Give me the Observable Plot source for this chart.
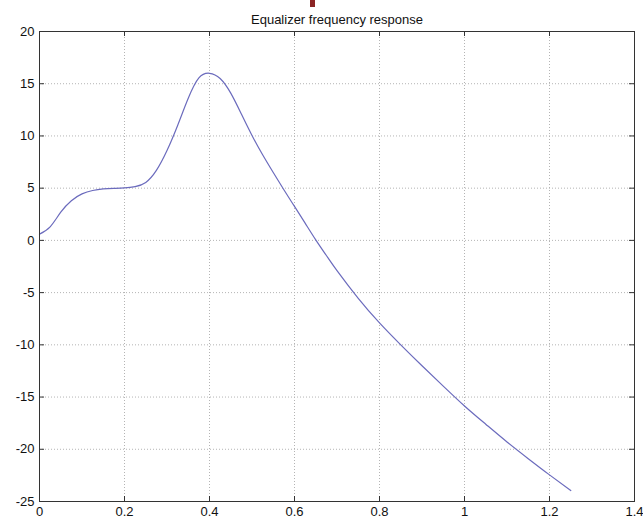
<!DOCTYPE html>
<html><head><meta charset="utf-8">
<script src="https://cdn.jsdelivr.net/npm/d3@7"></script>
<script src="https://cdn.jsdelivr.net/npm/@observablehq/plot@0.6"></script>
<style>
body{margin:0;background:#fff;}
#chart{position:relative;width:643px;height:522px;}
#mark{position:absolute;left:310px;top:0;width:5px;height:7px;background:#8b2525;}
</style>
</head><body><div id="chart"><div id="mark"></div></div>
<script>
const title = "Equalizer frequency response";
const freq = [0, 0.025, 0.05, 0.075, 0.1, 0.125, 0.15, 0.175, 0.2, 0.225, 0.25, 0.275, 0.3, 0.325, 0.35, 0.375, 0.4, 0.425, 0.45, 0.475, 0.5, 0.525, 0.55, 0.575, 0.6, 0.625, 0.65, 0.675, 0.7, 0.75, 0.8, 0.85, 0.9, 0.95, 1.0, 1.05, 1.1, 1.15, 1.2, 1.25];
const gainDb = [0.6, 1.3, 2.7, 3.8, 4.45, 4.78, 4.93, 4.98, 5.02, 5.15, 5.55, 6.7, 8.6, 11.0, 13.6, 15.55, 16.0, 15.5, 14.1, 12.1, 10.05, 8.2, 6.5, 4.85, 3.25, 1.65, 0.05, -1.45, -2.9, -5.55, -7.9, -10.0, -12.0, -13.95, -15.85, -17.6, -19.3, -20.9, -22.45, -23.95];
const xTicks = [0, 0.2, 0.4, 0.6, 0.8, 1, 1.2, 1.4];
const yTicks = [-25, -20, -15, -10, -5, 0, 5, 10, 15, 20];

const data = freq.map((f, i) => ({f, g: gainDb[i]}));
const W = 643, H = 522, mL = 39, mR = 9, mT = 31, mB = 21;
const fh = H - mT - mB, fw = W - mL - mR, tk = 5;
const ink = "#333";

const chart = Plot.plot({
  width: W, height: H,
  marginLeft: mL, marginRight: mR, marginTop: mT, marginBottom: mB,
  style: {fontFamily: "'Liberation Sans', Arial, Helvetica, sans-serif", fontSize: "13px", color: "#111", background: "#fff"},
  x: {domain: [0, 1.4], label: null},
  y: {domain: [-25, 20], label: null},
  marks: [
    Plot.gridX(xTicks, {stroke: "#b4b4b4", strokeOpacity: 1, strokeDasharray: "1,2"}),
    Plot.gridY(yTicks, {stroke: "#b4b4b4", strokeOpacity: 1, strokeDasharray: "1,2"}),
    Plot.line(data, {x: "f", y: "g", stroke: "#6b6bbd", strokeWidth: 1.2, curve: "natural"}),
    Plot.frame({stroke: ink}),
    Plot.tickX(xTicks, {x: d => d, insetTop: fh - tk, stroke: ink}),
    Plot.tickX(xTicks, {x: d => d, insetBottom: fh - tk, stroke: ink}),
    Plot.tickY(yTicks, {y: d => d, insetRight: fw - tk, stroke: ink}),
    Plot.tickY(yTicks, {y: d => d, insetLeft: fw - tk, stroke: ink}),
    Plot.axisX(xTicks, {tickSize: 0, tickPadding: 5, tickFormat: d => String(d)}),
    Plot.axisY(yTicks, {tickSize: 0, tickPadding: 5, tickFormat: d => String(d)}),
    Plot.text([title], {frameAnchor: "top", dy: -17, fontSize: 13, fill: "#111"})
  ]
});
document.getElementById("chart").appendChild(chart);
</script>
</body></html>
